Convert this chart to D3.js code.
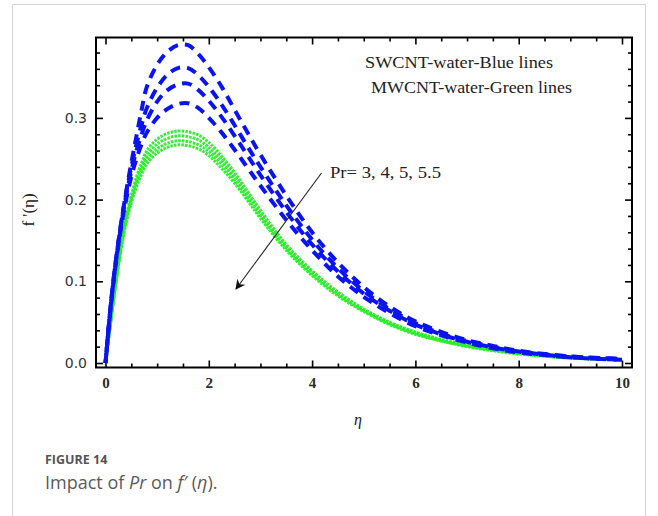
<!DOCTYPE html>
<html>
<head>
<meta charset="utf-8">
<script src="https://cdn.jsdelivr.net/npm/d3@7"></script>
<style>
  html, body { margin: 0; padding: 0; background: #fff; }
  svg { display: block; }
</style>
</head>
<body>
<svg id="chart" width="658" height="516"></svg>
<script>
// ---- data ----
const eta = [0, 0.1, 0.2, 0.3, 0.4, 0.5, 0.6, 0.7, 0.8, 1.0, 1.2, 1.4, 1.6, 1.8, 2.0, 2.25, 2.5, 2.75, 3.0, 3.5, 4.0, 4.5, 5.0, 5.5, 6.0, 6.5, 7.0, 7.5, 8.0, 9.0, 10.0];
const prValues = ["3", "4", "5", "5.5"];
// SWCNT-water (blue), Pr = 3, 4, 5, 5.5
const swcntPr3  = [0, 0.070, 0.125, 0.170, 0.210, 0.245, 0.278, 0.310, 0.338, 0.365, 0.381, 0.389, 0.389, 0.378, 0.362, 0.338, 0.310, 0.282, 0.255, 0.205, 0.160, 0.123, 0.093, 0.069, 0.051, 0.038, 0.028, 0.021, 0.015, 0.008, 0.005];
const swcntPr4  = [0, 0.070, 0.125, 0.170, 0.208, 0.240, 0.268, 0.292, 0.312, 0.337, 0.353, 0.361, 0.361, 0.352, 0.338, 0.316, 0.291, 0.265, 0.240, 0.193, 0.151, 0.116, 0.088, 0.066, 0.049, 0.036, 0.027, 0.020, 0.014, 0.008, 0.005];
const swcntPr5  = [0, 0.069, 0.124, 0.168, 0.205, 0.235, 0.260, 0.280, 0.297, 0.320, 0.334, 0.341, 0.342, 0.334, 0.321, 0.301, 0.278, 0.254, 0.230, 0.185, 0.145, 0.112, 0.085, 0.064, 0.047, 0.035, 0.026, 0.019, 0.014, 0.007, 0.004];
const swcntPr55 = [0, 0.068, 0.122, 0.165, 0.200, 0.228, 0.250, 0.268, 0.282, 0.300, 0.311, 0.317, 0.318, 0.312, 0.300, 0.282, 0.261, 0.239, 0.217, 0.175, 0.138, 0.106, 0.081, 0.061, 0.045, 0.034, 0.025, 0.018, 0.013, 0.007, 0.004];
// MWCNT-water (green), Pr = 3, 4, 5, 5.5
const mwcntPr3  = [0, 0.050, 0.100, 0.145, 0.180, 0.205, 0.228, 0.245, 0.260, 0.274, 0.281, 0.284, 0.283, 0.279, 0.270, 0.253, 0.233, 0.210, 0.187, 0.145, 0.113, 0.087, 0.066, 0.050, 0.038, 0.029, 0.022, 0.017, 0.013, 0.007, 0.004];
const mwcntPr4  = [0, 0.050, 0.099, 0.143, 0.177, 0.202, 0.224, 0.240, 0.254, 0.268, 0.275, 0.278, 0.277, 0.273, 0.264, 0.248, 0.228, 0.206, 0.183, 0.142, 0.111, 0.085, 0.065, 0.049, 0.037, 0.028, 0.021, 0.016, 0.012, 0.007, 0.004];
const mwcntPr5  = [0, 0.050, 0.098, 0.141, 0.175, 0.199, 0.220, 0.236, 0.249, 0.262, 0.269, 0.272, 0.271, 0.267, 0.259, 0.243, 0.224, 0.202, 0.180, 0.140, 0.109, 0.084, 0.064, 0.048, 0.036, 0.027, 0.021, 0.016, 0.012, 0.006, 0.004];
const mwcntPr55 = [0, 0.050, 0.097, 0.139, 0.172, 0.196, 0.216, 0.231, 0.244, 0.257, 0.264, 0.267, 0.266, 0.262, 0.254, 0.238, 0.220, 0.199, 0.177, 0.138, 0.107, 0.082, 0.063, 0.047, 0.035, 0.027, 0.020, 0.015, 0.011, 0.006, 0.004];

const xMajorTicks = [0, 2, 4, 6, 8, 10];
const yMajorTicks = [0.0, 0.1, 0.2, 0.3];
const legendLabels = ["SWCNT-water-Blue lines", "MWCNT-water-Green lines"];
const annotationLabel = "Pr= 3, 4, 5, 5.5";
const xTitle = "η";
const yTitle = "f '(η)";
const figureLabel = "FIGURE 14";

// ---- layout ----
const svg = d3.select("#chart");
const frame = { left: 96, right: 632, top: 37.5, bottom: 367.5 };

// card border
svg.append("rect").attr("x", 12.5).attr("y", 4.5).attr("width", 633).attr("height", 530)
  .attr("fill", "#fff").attr("stroke", "#d4d4d4").attr("stroke-width", 1);

const x = d3.scaleLinear().domain([0, 10]).range([105.5, 622]);
const y = d3.scaleLinear().domain([0, 0.3]).range([363, 117.9]);

const xMinor = d3.range(0, 10.01, 0.5).filter(v => Math.abs(v % 2) > 1e-6);
const yMinor = d3.range(0, 0.395, 0.02).filter(v => Math.abs(Math.round(v * 10) - v * 10) > 1e-6);

function strip(g) { g.select(".domain").remove(); g.selectAll("line").attr("stroke", "#000").attr("stroke-width", 1.6); }

// bottom
svg.append("g").attr("transform", `translate(0,${frame.bottom})`)
  .call(d3.axisBottom(x).tickValues(xMajorTicks).tickSize(-7).tickPadding(10).tickFormat(d3.format("d")))
  .call(strip)
  .call(g => g.selectAll("text").attr("font-family", "Liberation Serif, serif").attr("font-size", 15)
    .attr("font-weight", "bold").attr("fill", "#2a2a2a"));
svg.append("g").attr("transform", `translate(0,${frame.bottom})`)
  .call(d3.axisBottom(x).tickValues(xMinor).tickSize(-4).tickFormat(""))
  .call(strip);
// top
svg.append("g").attr("transform", `translate(0,${frame.top})`)
  .call(d3.axisTop(x).tickValues(xMajorTicks).tickSize(-7).tickFormat(""))
  .call(strip);
svg.append("g").attr("transform", `translate(0,${frame.top})`)
  .call(d3.axisTop(x).tickValues(xMinor).tickSize(-4).tickFormat(""))
  .call(strip);
// left
svg.append("g").attr("transform", `translate(${frame.left},0)`)
  .call(d3.axisLeft(y).tickValues(yMajorTicks).tickSize(-7).tickPadding(9).tickFormat(d3.format(".1f")))
  .call(strip)
  .call(g => g.selectAll("text").attr("font-family", "DejaVu Sans, sans-serif").attr("font-size", 14)
    .attr("fill", "#333"));
svg.append("g").attr("transform", `translate(${frame.left},0)`)
  .call(d3.axisLeft(y).tickValues(yMinor).tickSize(-4).tickFormat(""))
  .call(strip);
// right
svg.append("g").attr("transform", `translate(${frame.right},0)`)
  .call(d3.axisRight(y).tickValues(yMajorTicks).tickSize(-7).tickFormat(""))
  .call(strip);
svg.append("g").attr("transform", `translate(${frame.right},0)`)
  .call(d3.axisRight(y).tickValues(yMinor).tickSize(-4).tickFormat(""))
  .call(strip);

// clip
svg.append("clipPath").attr("id", "clip").append("rect")
  .attr("x", frame.left).attr("y", frame.top)
  .attr("width", frame.right - frame.left).attr("height", frame.bottom - frame.top);

const line = d3.line().x((d, i) => x(eta[i])).y(d => y(d)).curve(d3.curveCatmullRom.alpha(0.5));

const curves = svg.append("g").attr("clip-path", "url(#clip)");
const greens = [mwcntPr3, mwcntPr4, mwcntPr5, mwcntPr55];
const blues = [swcntPr3, swcntPr4, swcntPr5, swcntPr55];

greens.forEach((s, k) => {
  curves.append("path").datum(s).attr("d", line)
    .attr("fill", "none").attr("stroke", "#2aee2a").attr("stroke-width", 3)
    .attr("stroke-dasharray", "2.5,1.2").attr("stroke-dashoffset", k * 0.8)
    .attr("opacity", 0.95);
});
blues.forEach((s, k) => {
  curves.append("path").datum(s).attr("d", line)
    .attr("fill", "none").attr("stroke", "#0a14f0").attr("stroke-width", 4)
    .attr("stroke-dasharray", "10,7").attr("stroke-dashoffset", k * 3);
});

// frame
svg.append("rect").attr("x", frame.left).attr("y", frame.top)
  .attr("width", frame.right - frame.left).attr("height", frame.bottom - frame.top)
  .attr("fill", "none").attr("stroke", "#000").attr("stroke-width", 2);

// legend text
svg.append("text").attr("x", 365).attr("y", 68).text(legendLabels[0])
  .attr("font-family", "Liberation Serif, serif").attr("font-size", 16.5).attr("fill", "#222")
  .attr("textLength", 188).attr("lengthAdjust", "spacingAndGlyphs");
svg.append("text").attr("x", 371).attr("y", 93).text(legendLabels[1])
  .attr("font-family", "Liberation Serif, serif").attr("font-size", 16.5).attr("fill", "#222")
  .attr("textLength", 201).attr("lengthAdjust", "spacingAndGlyphs");

// annotation arrow
const defs = svg.append("defs");
defs.append("marker").attr("id", "arrow").attr("viewBox", "0 0 10 10").attr("refX", 9).attr("refY", 5)
  .attr("markerWidth", 14).attr("markerHeight", 10).attr("markerUnits", "userSpaceOnUse").attr("orient", "auto")
  .append("path").attr("d", "M0,0 L10,5 L0,10 L3,5 Z").attr("fill", "#111");
svg.append("line").attr("x1", 321.5).attr("y1", 173).attr("x2", 236).attr("y2", 289)
  .attr("stroke", "#222").attr("stroke-width", 1.1).attr("marker-end", "url(#arrow)");
svg.append("text").attr("x", 330).attr("y", 178).text(annotationLabel)
  .attr("font-family", "Liberation Serif, serif").attr("font-size", 16).attr("fill", "#222")
  .attr("textLength", 111).attr("lengthAdjust", "spacingAndGlyphs");

// axis titles
svg.append("text").attr("transform", "translate(34,210) rotate(-90)").attr("text-anchor", "middle")
  .text(yTitle).attr("font-family", "Liberation Serif, serif").attr("font-size", 17).attr("fill", "#222");
svg.append("text").attr("x", 358).attr("y", 425).attr("text-anchor", "middle").text(xTitle)
  .attr("font-family", "Liberation Serif, serif").attr("font-style", "italic").attr("font-size", 16).attr("fill", "#222");

// caption
svg.append("text").attr("x", 45).attr("y", 464).text(figureLabel)
  .attr("font-family", "Open Sans, sans-serif").attr("font-weight", "bold").attr("font-size", 12.5).attr("fill", "#555");
const cap = svg.append("text").attr("x", 45).attr("y", 488.5)
  .attr("font-family", "Open Sans, sans-serif").attr("font-size", 18).attr("fill", "#5a5a5a");
cap.append("tspan").text("Impact of ");
cap.append("tspan").attr("font-style", "italic").text("Pr");
cap.append("tspan").text(" on ");
cap.append("tspan").attr("font-style", "italic").text("f′");
cap.append("tspan").text(" (");
cap.append("tspan").attr("font-style", "italic").text("η");
cap.append("tspan").text(").");
</script>
</body>
</html>
